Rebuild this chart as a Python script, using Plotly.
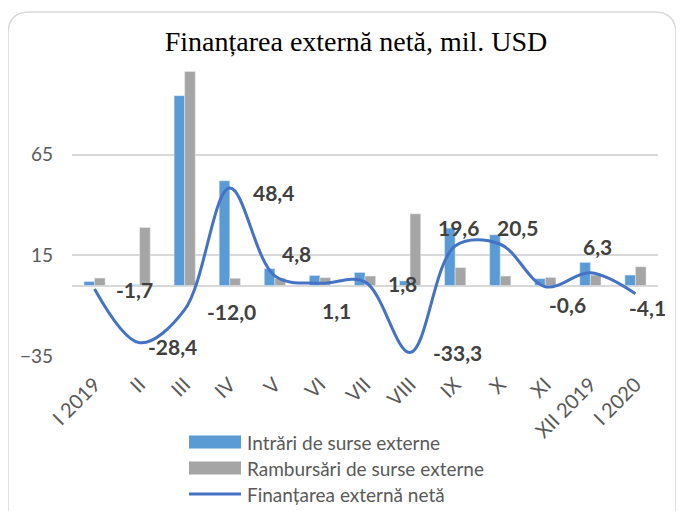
import plotly.graph_objects as go

categories = ["I 2019", "II", "III", "IV", "V", "VI", "VII", "VIII", "IX", "X", "XI", "XII 2019", "I 2020"]
intrari = [2.0, 0.4, 94.3, 52.0, 8.4, 5.0, 6.5, 2.3, 28.5, 25.2, 3.4, 11.5, 5.2]
rambursari = [3.7, 28.8, 106.3, 3.6, 3.6, 3.9, 4.7, 35.6, 8.9, 4.7, 4.0, 5.2, 9.3]
net = [-1.7, -28.4, -12.0, 48.4, 4.8, 1.1, 1.8, -33.3, 19.6, 20.5, -0.6, 6.3, -4.1]
y_ticks = [-35, 15, 65]

# label offsets in pixels (dx right, dy down) relative to line points
label_dx = [40, 33, 47, 44, 22, 17, 37, 47, 3, 17, 22, 7, 12]
label_dy = [1, 4, 2, 4, -22, 27, 2, 0, -19, -17, 18, -26, 14]

names = ["Intrări de surse externe", "Rambursări de surse externe", "Finanțarea externă netă"]
c_blue = "#5B9BD5"
c_gray = "#A5A5A5"
c_line = "#4472C4"
txt = "#595959"

# page body has an 8px margin; figure is sized/placed to compensate
W, H = 676, 503

fig = go.Figure()
fig.add_trace(go.Bar(x=categories, y=intrari, name=names[0], marker_color=c_blue, showlegend=False))
fig.add_trace(go.Bar(x=categories, y=rambursari, name=names[1], marker_color=c_gray, showlegend=False))
fig.add_trace(go.Scatter(x=categories, y=net, name=names[2], mode="lines",
                         line=dict(color=c_line, width=3, shape="spline", smoothing=1),
                         showlegend=False))

annotations = []
for c, v, dx, dy in zip(categories, net, label_dx, label_dy):
    annotations.append(dict(x=c, y=v, xref="x", yref="y", text=f"{v:.1f}".replace(".", ","),
                            showarrow=False, xanchor="center", yanchor="middle",
                            xshift=dx, yshift=-dy,
                            font=dict(family="Lato", size=21, color="#404040", weight="bold")))

# custom legend (text)
legend_rows = [-86, -112, -138]
for nm, ys in zip(names, legend_rows):
    annotations.append(dict(x=0, y=0, xref="paper", yref="paper", text=nm, showarrow=False,
                            xanchor="left", yanchor="middle", xshift=173, yshift=ys,
                            font=dict(family="Lato", size=19, color=txt)))

shapes = [
    # legend swatches
    dict(type="rect", xref="paper", yref="paper", xsizemode="pixel", ysizemode="pixel",
         xanchor=0, yanchor=0, x0=117, x1=169, y0=-92.5, y1=-79.5,
         fillcolor=c_blue, line=dict(width=0)),
    dict(type="rect", xref="paper", yref="paper", xsizemode="pixel", ysizemode="pixel",
         xanchor=0, yanchor=0, x0=117, x1=169, y0=-118.5, y1=-105.5,
         fillcolor=c_gray, line=dict(width=0)),
    dict(type="line", xref="paper", yref="paper", xsizemode="pixel", ysizemode="pixel",
         xanchor=0, yanchor=0, x0=117, x1=169, y0=-138, y1=-138,
         line=dict(color=c_line, width=3)),
    # chart border (rounded)
    dict(type="path", xref="paper", yref="paper", xsizemode="pixel", ysizemode="pixel",
         xanchor=0, yanchor=0,
         path="M -64,-170 L -64,322 Q -64,344 -42,344 L 582,344 Q 604,344 604,322 L 604,-170",
         line=dict(color="#D9D9D9", width=1.5)),
]

fig.update_layout(
    width=W, height=H,
    margin=dict(l=64, r=26, t=52, b=155),
    paper_bgcolor="white", plot_bgcolor="white",
    barmode="group", bargap=0.53, bargroupgap=0,
    showlegend=False,
    title=dict(text="Finanțarea externă netă, mil. USD", x=348/W, xanchor="center",
               y=1 - 33/H, yanchor="middle", yref="container",
               font=dict(family="Liberation Serif", size=28, color="#000000")),
    annotations=annotations,
    shapes=shapes,
)
fig.update_xaxes(type="category", range=[-0.5, 12.5], tickangle=-45, showgrid=False,
                 showline=False, ticks="", ticklabelstandoff=12,
                 tickfont=dict(family="Lato", size=20, color=txt))
fig.update_yaxes(range=[-35, 112], tickvals=y_ticks, showgrid=True, gridcolor="#D9D9D9",
                 gridwidth=1.5, zeroline=True, zerolinecolor="#D9D9D9", zerolinewidth=1.5,
                 showline=False, ticks="", ticklabelstandoff=18,
                 tickfont=dict(family="Lato", size=19, color=txt))

fig.write_html("out.html")
